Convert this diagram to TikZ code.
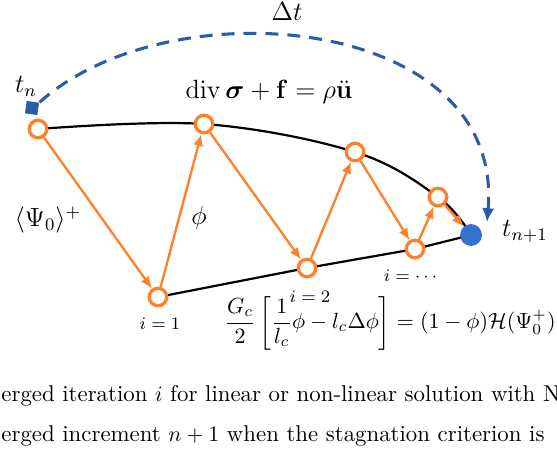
\documentclass[tikz,border=0pt]{standalone}
\usepackage{amsmath}
\usepackage{amssymb}
\usepackage{tikz}
\usetikzlibrary{arrows.meta,calc,backgrounds}

\definecolor{iterorange}{RGB}{255,128,42}
\definecolor{dashblue}{RGB}{42,92,168}
\definecolor{dotblue}{RGB}{52,112,205}

\begin{document}
\begin{tikzpicture}[
  x=0.016cm, y=-0.016cm,
  iter/.style={circle, draw=iterorange, line width=1.5pt, fill=white, minimum size=0.28cm, inner sep=0pt},
  conv/.style={circle, fill=dotblue, minimum size=0.35cm, inner sep=0pt},
  startsq/.style={fill=dashblue, minimum size=0.2cm, inner sep=0pt, rotate=-8},
  lbl/.style={inner sep=0pt, font=\fontsize{12}{14}\selectfont},
  small/.style={inner sep=0pt, font=\fontsize{8.4}{10}\selectfont},
  textline/.style={inner sep=0pt, anchor=base west, font=\fontsize{10.4}{12.5}\selectfont},
  iterarrow/.style={-{Latex[length=0.19cm, width=0.16cm]}, draw=iterorange, line width=1.05pt},
  solution/.style={black, line width=1pt},
  timestep/.style={-{Latex[length=0.22cm, width=0.2cm]}, draw=dashblue, line width=1.4pt, dash pattern=on 5.9pt off 4.1pt}
]
\useasboundingbox (0,0) rectangle (557,454);
\clip (0,0) rectangle (557,454);

% iterations on the two branches
\node[iter] (c0) at (38,129) {};
\node[iter] (c1) at (204,124) {};
\node[iter] (c2) at (355,152) {};
\node[iter] (c3) at (438,197) {};
\node[iter] (b1) at (158,297) {};
\node[iter] (b2) at (307,268) {};
\node[iter] (b3) at (415,249) {};
\node[conv] (tnext) at (471,235) {};
\node[startsq] (tstart) at (32,108) {};
\coordinate (dtip) at (487,222);

\node[lbl] (tnlbl) at (26,86) {$t_n$};
\node[lbl] (dtlbl) at (287,11) {$\Delta t$};
\node[lbl] (tnextlbl) at (525,231) {$t_{n+1}$};
\node[lbl] (momentum) at (269,92) {$\mathrm{div}\,\boldsymbol{\sigma}+\mathbf{f}=\rho\ddot{\mathbf{u}}$};
\node[lbl] (psilbl) at (48,220) {$\langle\Psi_0\rangle^{+}$};
\node[lbl] (philbl) at (199,218) {$\phi$};
\node[small] (i1) at (160,324) {$i=1$};
\node[small] (i2) at (310,297) {$i=2$};
\node[small] (i3) at (412,276) {$i=\cdots$};
\node[inner sep=0pt, font=\fontsize{10.2}{12}\selectfont] (phasefield) at (390,323) {$\dfrac{G_c}{2}\left[\dfrac{1}{l_c}\phi-l_c\Delta\phi\right]=(1-\phi)\mathcal{H}(\Psi_0^{+})$};

\node[textline] (line1) at (1,401) {erged iteration $i$ for linear or non-linear solution with N};
\node[textline] (line2) at (1,441) {erged increment $n+1$ when the stagnation criterion is};

\begin{scope}[on background layer]
  \draw[solution] plot[smooth, tension=0.6] coordinates {(c0.center) (c1.center) (c2.center) (c3.center) (tnext.center)};
  \draw[solution] (b1.center) -- (b2.center) -- (b3.center) -- (tnext.center);
\end{scope}

\draw[iterarrow] (c0) -- (b1);
\draw[iterarrow] (b1) -- (c1);
\draw[iterarrow] (c1) -- (b2);
\draw[iterarrow] (b2) -- (c2);
\draw[iterarrow] (c2) -- (b3);
\draw[iterarrow] (b3) -- (c3);
\draw[iterarrow] (c3) -- (tnext);

\draw[timestep] (tstart.north east) .. controls (170,-15) and (505,15) .. (dtip);
\end{tikzpicture}
\end{document}
